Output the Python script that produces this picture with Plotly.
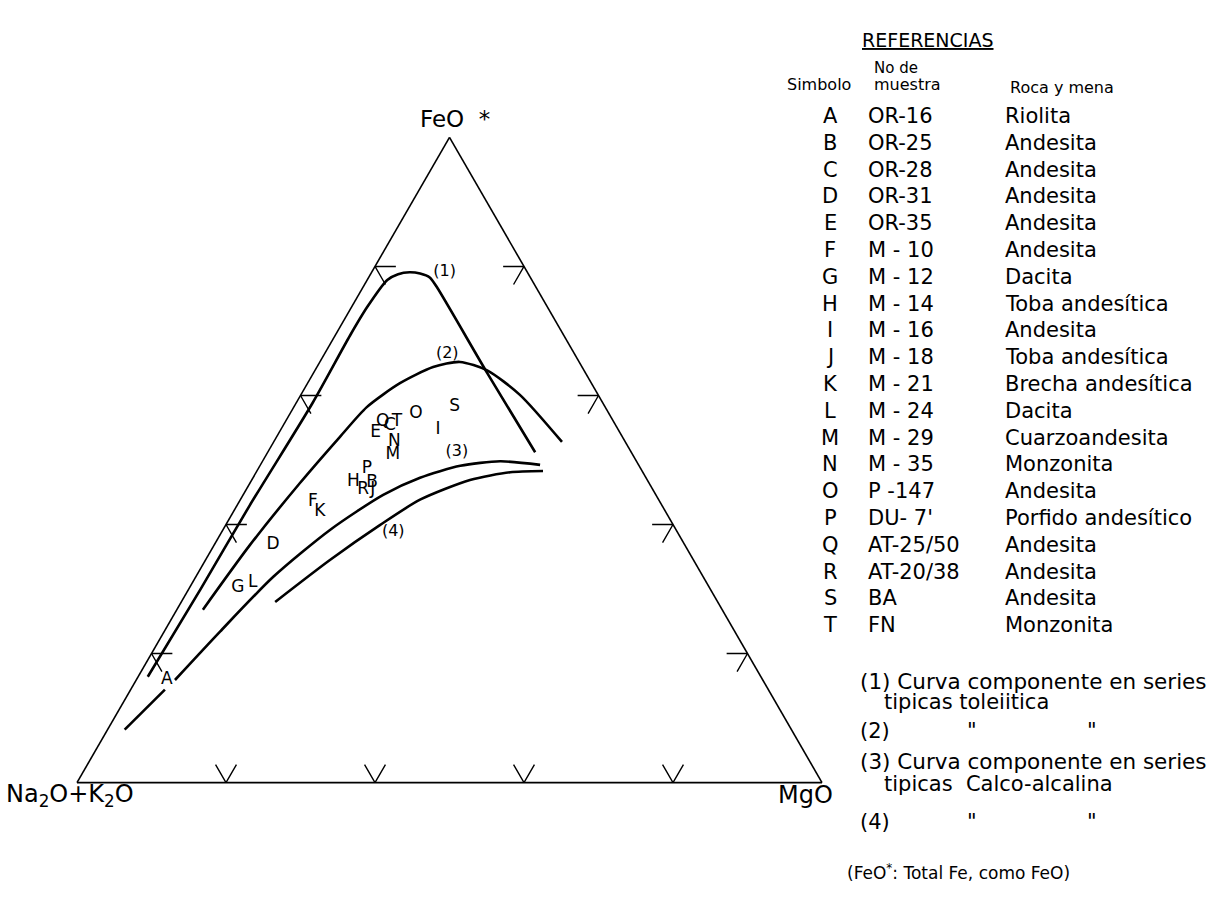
import plotly.graph_objects as go

W, H = 1224, 901

# ---------------- data (percent: FeO*, Na2O+K2O, MgO) ----------------
symbols = ["A", "B", "C", "D", "E", "F", "G", "H", "I", "J",
           "K", "L", "M", "N", "O", "P", "Q", "R", "S", "T"]
feo = [15.9, 46.4, 55.3, 36.8, 54.2, 43.5, 30.2, 46.6, 54.6, 45.4,
       42.0, 31.0, 50.8, 52.8, 57.3, 48.6, 55.9, 45.4, 58.2, 55.9]
alk = [80.0, 37.2, 30.4, 55.3, 32.8, 46.6, 63.3, 39.6, 24.2, 37.6,
       46.4, 60.9, 32.2, 31.0, 25.9, 36.8, 31.0, 38.9, 20.2, 29.1]
mgo = [4.1, 16.4, 14.4, 7.9, 13.0, 9.9, 6.5, 13.8, 21.1, 17.0,
       11.6, 8.1, 17.0, 16.2, 16.9, 14.6, 13.1, 15.7, 21.6, 15.0]

muestras = ["OR-16", "OR-25", "OR-28", "OR-31", "OR-35", "M - 10", "M - 12",
            "M - 14", "M - 16", "M - 18", "M - 21", "M - 24", "M - 29",
            "M - 35", "P -147", "DU- 7'", "AT-25/50", "AT-20/38", "BA", "FN"]
rocas = ["Riolita", "Andesita", "Andesita", "Andesita", "Andesita",
         "Andesita", "Dacita", "Toba andesítica", "Andesita",
         "Toba andesítica", "Brecha andesítica", "Dacita",
         "Cuarzoandesita", "Monzonita", "Andesita", "Porfido andesítico",
         "Andesita", "Andesita", "Andesita", "Monzonita"]

# Curve (1) tholeiitic
c1_feo = [16.4, 29.9, 42.9, 58.8, 69.3, 73.7, 77.9, 78.8, 79.1, 78.9, 78.3, 76.8, 63.5, 51.2]
c1_alk = [82.3, 68.5, 55.4, 39.0, 28.7, 24.2, 19.4, 17.5, 15.8, 14.5, 13.5, 13.3, 13.2, 12.9]
c1_mgo = [1.3, 1.6, 1.7, 2.2, 2.0, 2.1, 2.7, 3.7, 5.1, 6.6, 8.2, 9.9, 23.3, 35.9]
# Curve (2)
c2_feo = [26.8, 36.8, 46.4, 53.6, 58.2, 61.9, 64.4, 65.2, 63.9, 60.1, 52.8]
c2_alk = [69.7, 58.4, 46.9, 37.9, 32.0, 25.7, 20.0, 16.0, 13.0, 10.5, 8.5]
c2_mgo = [3.5, 4.8, 6.7, 8.5, 9.8, 12.4, 15.6, 18.8, 23.1, 29.4, 38.7]
# Curve (3) calc-alkaline (broken around label A)
c3_feo = [8.2, 14.4, None, 15.9, 23.4, 31.9, 39.2, 44.6, 47.2, 49.1, 49.8, 49.2]
c3_alk = [89.5, 81.0, None, 78.9, 69.1, 57.7, 46.4, 36.6, 30.3, 24.0, 18.3, 13.2]
c3_mgo = [2.3, 4.6, None, 5.2, 7.5, 10.4, 14.4, 18.8, 22.4, 26.9, 31.9, 37.5]
# Curve (4)
c4_feo = [28.0, 34.5, 39.9, 43.8, 46.9, 48.1, 48.3]
c4_alk = [59.4, 48.8, 39.4, 32.0, 23.8, 17.8, 13.3]
c4_mgo = [12.6, 16.7, 20.7, 24.1, 29.3, 34.1, 38.4]

curve_labels = ["(1)", "(2)", "(3)", "(4)"]
cl_feo = [79.1, 66.4, 51.2, 38.9]
cl_alk = [11.1, 17.1, 23.4, 38.1]
cl_mgo = [9.8, 16.5, 25.4, 23.0]

tick_values = [20, 40, 60, 80]
TICK_LEN = 2.8

FONT = "DejaVu Sans"

fig = go.Figure()

curve_style = dict(color="black", width=2.6, shape="spline", smoothing=0.7)
for fa, al, mg in [(c1_feo, c1_alk, c1_mgo), (c2_feo, c2_alk, c2_mgo),
                   (c3_feo, c3_alk, c3_mgo), (c4_feo, c4_alk, c4_mgo)]:
    fig.add_trace(go.Scatterternary(a=fa, b=al, c=mg, mode="lines",
                                    line=curve_style, hoverinfo="skip"))

# tick marks ("V" shaped, pointing inward) along the three sides
ta, tb, tc = [], [], []
d = TICK_LEN
for v in tick_values:
    # bottom side (FeO = 0), MgO = v
    ta += [d, 0, d, None]
    tb += [100 - v - d, 100 - v, 100 - v, None]
    tc += [v, v, v - d, None]
    # left side (MgO = 0), FeO = v
    ta += [v, v, v - d, None]
    tb += [100 - v - d, 100 - v, 100 - v, None]
    tc += [d, 0, d, None]
    # right side (Na2O+K2O = 0), FeO = v
    ta += [v, v, v - d, None]
    tb += [d, 0, d, None]
    tc += [100 - v - d, 100 - v, 100 - v, None]
fig.add_trace(go.Scatterternary(a=ta, b=tb, c=tc, mode="lines",
                                line=dict(color="black", width=1.4),
                                hoverinfo="skip"))

fig.add_trace(go.Scatterternary(a=feo, b=alk, c=mgo, mode="text", text=symbols,
                                textposition="middle center",
                                textfont=dict(family=FONT, size=17, color="black"),
                                hoverinfo="text"))
fig.add_trace(go.Scatterternary(a=cl_feo, b=cl_alk, c=cl_mgo, mode="text",
                                text=curve_labels, textposition="middle center",
                                textfont=dict(family=FONT, size=16, color="black"),
                                hoverinfo="skip"))

axis_style = dict(showline=True, linecolor="black", linewidth=1.6, showgrid=False,
                  ticks="", showticklabels=False, title=dict(text=""), min=0)

fig.update_layout(
    width=W, height=H, margin=dict(l=0, r=0, t=0, b=0),
    paper_bgcolor="white", plot_bgcolor="white", showlegend=False,
    ternary=dict(sum=100, bgcolor="white",
                 domain=dict(x=[77 / W, 822 / W], y=[1 - 783 / H, 1 - 137 / H]),
                 aaxis=axis_style, baxis=axis_style, caxis=axis_style),
)

annotations = []


def ann(text, px, py, size=21, xanchor="left"):
    annotations.append(dict(text=text, x=px / W, y=1 - py / H, xref="paper",
                            yref="paper", xanchor=xanchor, yanchor="middle",
                            showarrow=False,
                            font=dict(family=FONT, size=size, color="black")))


# vertex labels
ann("FeO&nbsp;&nbsp;*", 418, 119, 23)
ann("Na<sub>2</sub>O+K<sub>2</sub>O", 4, 795, 24)
ann("MgO", 776, 795, 24)

# legend
ann("<u>REFERENCIAS</u>", 860, 40, 19)
ann("No de", 872, 68, 15)
ann("Simbolo", 785, 85, 16)
ann("muestra", 872, 85, 16)
ann("Roca y mena", 1008, 87, 16)

row0, step = 116, 26.8
for i, (s, m, r) in enumerate(zip(symbols, muestras, rocas)):
    y = row0 + step * i
    ann(s, 830, y, 21, "center")
    ann(m, 866, y, 21)
    ann(r, 1003, y, 21)

ann("(1) Curva componente en series", 858, 681, 21.5)
ann("tipicas toleiitica", 882, 702, 21)
ann("(2)", 858, 731, 21)
ann("<i>\"</i>", 965, 731, 21)
ann("<i>\"</i>", 1085, 731, 21)
ann("(3) Curva componente en series", 858, 761, 21.5)
ann("tipicas  Calco-alcalina", 882, 784, 21)
ann("(4)", 858, 822, 21)
ann("<i>\"</i>", 965, 822, 21)
ann("<i>\"</i>", 1085, 822, 21)
ann("(FeO<sup>*</sup>: Total Fe, como FeO)", 845, 872, 17)

fig.update_layout(annotations=annotations)

fig.write_html("out.html")
